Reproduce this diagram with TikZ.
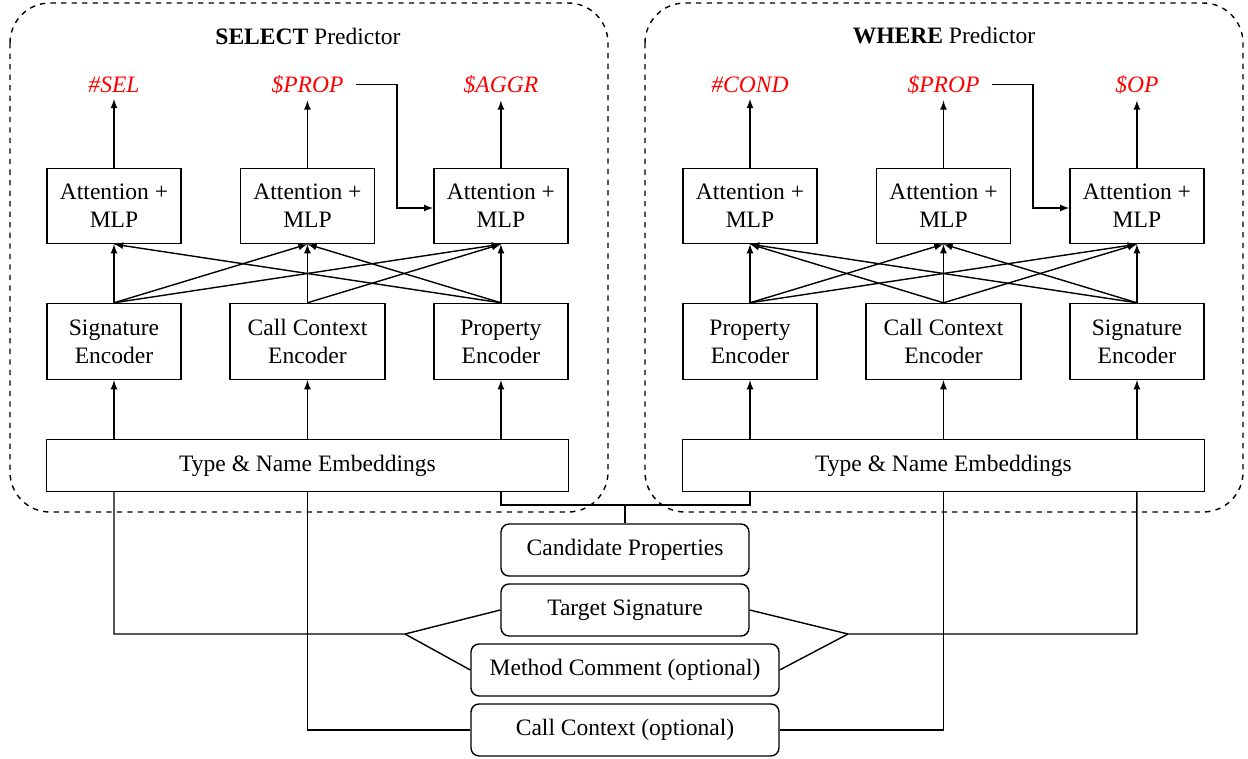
\documentclass[tikz,border=0pt]{standalone}
\usepackage{fontspec}
\setmainfont{Liberation Serif}
\usetikzlibrary{arrows}

\tikzset{
  att/.style={draw, align=center, minimum width=2.68cm, minimum height=1.5cm, inner sep=0pt},
  enc/.style={att, minimum height=1.52cm},
  emb/.style={draw, minimum width=10.44cm, minimum height=1.04cm, inner sep=0pt},
  inp/.style={draw, rounded corners=0.16cm, minimum width=4.96cm, minimum height=1.04cm, inner sep=0pt},
  outlabel/.style={text=red, font=\fontsize{13.4}{16}\selectfont\itshape},
  panel/.style={dashed, rounded corners=0.8cm}
}

\begin{document}
\begin{tikzpicture}[x=0.02cm, y=-0.02cm, node distance=3.87cm, line width=0.8pt, >=latex,
    font=\fontsize{13.4}{16}\selectfont]
\useasboundingbox (0,0) rectangle (1248,758);

% SELECT predictor
\draw[panel] (10,3) rectangle (608,512);
\node (stitle) at (308,36) {\textbf{SELECT} Predictor};
\node[att] (sa1) at (114,206) {Attention +\\MLP};
\node[att] (sa2) [right of = sa1] {Attention +\\MLP};
\node[att] (sa3) [right of = sa2] {Attention +\\MLP};
\node[enc] (se1) [below of = sa1, node distance=2.71cm] {Signature\\Encoder};
\node[enc, minimum width=3.1cm] (se2) [below of = sa2, node distance=2.71cm] {Call Context\\Encoder};
\node[enc] (se3) [below of = sa3, node distance=2.71cm] {Property\\Encoder};
\node[emb] (semb) [below of = se2, node distance=2.48cm] {Type \& Name Embeddings};
\node[outlabel] (so1) [above of = sa1, node distance=2.43cm] {\#SEL};
\node[outlabel] (so2) [above of = sa2, node distance=2.43cm] {\$PROP};
\node[outlabel] (so3) [above of = sa3, node distance=2.43cm] {\$AGGR};

\path[->] (sa1.north) edge (so1.south)
    (sa2.north) edge (so2.south)
    (sa3.north) edge (so3.south)
    (se1.north) edge (sa1.south)
    (se1.north) edge (sa2.south)
    (se1.north) edge (sa3.south)
    (se2.north) edge (sa2.south)
    (se2.north) edge (sa3.south)
    (se3.north) edge (sa1.south)
    (se3.north) edge (sa2.south)
    (se3.north) edge (sa3.south)
    (semb.north -| se1.south) edge (se1.south)
    (semb.north -| se2.south) edge (se2.south)
    (semb.north -| se3.south) edge (se3.south);
\draw[->, shorten <=0.12cm] (so2.east) -- ++(47,0) |- ([yshift=-0.04cm]sa3.west);

% WHERE predictor
\draw[panel] (645,3) rectangle (1243,512);
\node (wtitle) at (944,36) {\textbf{WHERE} Predictor};
\node[att] (wa1) at (750,206) {Attention +\\MLP};
\node[att] (wa2) [right of = wa1] {Attention +\\MLP};
\node[att] (wa3) [right of = wa2] {Attention +\\MLP};
\node[enc] (we1) [below of = wa1, node distance=2.71cm] {Property\\Encoder};
\node[enc, minimum width=3.1cm] (we2) [below of = wa2, node distance=2.71cm] {Call Context\\Encoder};
\node[enc] (we3) [below of = wa3, node distance=2.71cm] {Signature\\Encoder};
\node[emb] (wemb) [below of = we2, node distance=2.48cm] {Type \& Name Embeddings};
\node[outlabel] (wo1) [above of = wa1, node distance=2.43cm] {\#COND};
\node[outlabel] (wo2) [above of = wa2, node distance=2.43cm] {\$PROP};
\node[outlabel] (wo3) [above of = wa3, node distance=2.43cm] {\$OP};

\path[->] (wa1.north) edge (wo1.south)
    (wa2.north) edge (wo2.south)
    (wa3.north) edge (wo3.south)
    (we1.north) edge (wa1.south)
    (we1.north) edge (wa2.south)
    (we1.north) edge (wa3.south)
    (we2.north) edge (wa1.south)
    (we2.north) edge (wa2.south)
    (we2.north) edge (wa3.south)
    (we3.north) edge (wa1.south)
    (we3.north) edge (wa2.south)
    (we3.north) edge (wa3.south)
    (wemb.north -| we1.south) edge (we1.south)
    (wemb.north -| we2.south) edge (we2.south)
    (wemb.north -| we3.south) edge (we3.south);
\draw[->, shorten <=0.12cm] (wo2.east) -- ++(47,0) |- ([yshift=-0.04cm]wa3.west);

% shared inputs
\node[inp] (cand) at (625,550) {Candidate Properties};
\node[inp] (tsig) [below of = cand, node distance=1.2cm] {Target Signature};
\node[inp, minimum width=6.16cm] (mcom) [below of = tsig, node distance=1.2cm] {Method Comment (optional)};
\node[inp, minimum width=6.16cm] (cctx) [below of = mcom, node distance=1.2cm] {Call Context (optional)};
\coordinate (cjoin) at (625,505);
\coordinate (ljoin) at (405,634);
\coordinate (rjoin) at (848,634);

\draw (semb.south -| se3.south) |- (cjoin) -| (wemb.south -| we1.south);
\draw (cjoin) -- (cand.north);
\draw (semb.south -| se1.south) |- (ljoin) -- (tsig.west);
\draw (ljoin) -- (mcom.west);
\draw (wemb.south -| we3.south) |- (rjoin) -- (tsig.east);
\draw (rjoin) -- (mcom.east);
\draw (semb.south -| se2.south) |- (cctx.west);
\draw (wemb.south -| we2.south) |- (cctx.east);
\end{tikzpicture}
\end{document}
